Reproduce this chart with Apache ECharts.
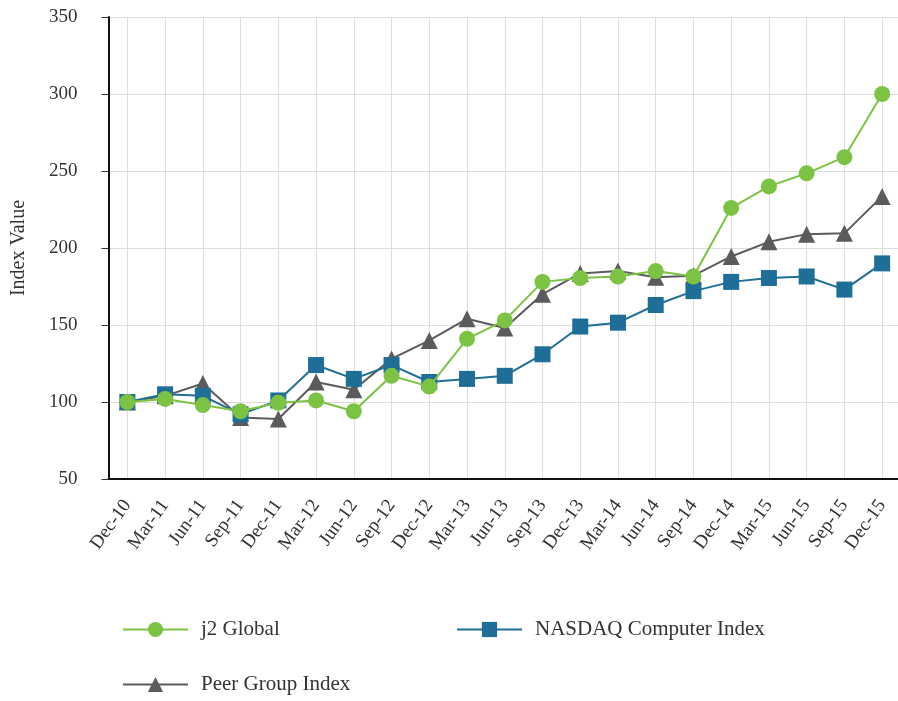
<!DOCTYPE html>
<html>
<head>
<meta charset="utf-8">
<script src="https://cdn.jsdelivr.net/npm/echarts@6/dist/echarts.min.js"></script>
<style>
  html, body { margin: 0; padding: 0; background: #fff; }
  #main { width: 898px; height: 701px; }
</style>
</head>
<body>
<div id="main"></div>
<script>
const quarters = ["Dec-10", "Mar-11", "Jun-11", "Sep-11", "Dec-11", "Mar-12", "Jun-12", "Sep-12", "Dec-12", "Mar-13", "Jun-13",
	"Sep-13", "Dec-13", "Mar-14", "Jun-14", "Sep-14", "Dec-14", "Mar-15", "Jun-15", "Sep-15", "Dec-15"];
const j2Global = [100, 102, 98, 94, 99.5, 101, 94, 117, 110, 141, 153, 178, 180.5, 181.5, 185, 181.5, 226, 240, 248.5, 259, 300];
const nasdaqComputer = [100, 105, 104, 92, 101, 124, 115, 124, 113, 115, 117, 131, 149, 151.5, 163, 172, 178, 180.5, 181.5, 173, 190];
const peerGroup = [100, 104, 112, 90, 89, 113, 108, 128, 140, 154, 148, 170, 183.5, 185, 181, 182, 194.5, 204, 209, 209.5, 233.5];

const font = "Liberation Serif";
const chart = echarts.init(document.getElementById("main"));

const legendBase = {
	itemWidth: 65,
	itemHeight: 19,
	textStyle: { fontFamily: font, fontSize: 21, color: "#333", padding: [0, 0, 0, 8] },
	selectedMode: false,
};

const option = {
	animation: false,
	grid: { left: 108.5, right: -3, top: 17, bottom: 222, outerBoundsMode: "none" },
	legend: [
		Object.assign({ left: 117, top: 614, data: ["j2 Global"] }, legendBase),
		Object.assign({ left: 451, top: 614, data: ["NASDAQ Computer Index"] }, legendBase),
		Object.assign({ left: 117, top: 669, data: ["Peer Group Index"] }, legendBase),
	],
	xAxis: {
		type: "category",
		data: quarters,
		boundaryGap: true,
		axisLine: { lineStyle: { color: "#111", width: 2 } },
		axisTick: { alignWithLabel: true, length: 7, lineStyle: { color: "#333" } },
		axisLabel: {
			rotate: 54,
			margin: 23,
			fontFamily: font,
			fontSize: 19,
			color: "#333",
			interval: 0,
		},
		splitLine: { show: true, alignWithLabel: true, lineStyle: { color: "#ddd", width: 1 } },
	},
	yAxis: {
		type: "value",
		min: 50,
		max: 350,
		interval: 50,
		name: "Index Value",
		nameLocation: "middle",
		nameGap: 80,
		nameTextStyle: { fontFamily: font, fontSize: 20, color: "#333" },
		axisLine: { show: true, lineStyle: { color: "#111", width: 2 } },
		axisTick: { show: true, length: 7, lineStyle: { color: "#333" } },
		axisLabel: { margin: 31, fontFamily: font, fontSize: 19, color: "#333" },
		splitLine: { lineStyle: { color: "#ddd", width: 1 } },
	},
	series: [
		{
			name: "Peer Group Index",
			type: "line",
			data: peerGroup,
			symbol: "triangle",
			symbolSize: 17,
			z: 2,
			itemStyle: { color: "#5a5b5d" },
			lineStyle: { color: "#5a5b5d", width: 2 },
		},
		{
			name: "NASDAQ Computer Index",
			type: "line",
			data: nasdaqComputer,
			symbol: "rect",
			symbolSize: 16,
			z: 3,
			itemStyle: { color: "#1f6e98" },
			lineStyle: { color: "#1f6e98", width: 2 },
		},
		{
			name: "j2 Global",
			type: "line",
			data: j2Global,
			symbol: "circle",
			symbolSize: 16,
			z: 4,
			itemStyle: { color: "#7cc243" },
			lineStyle: { color: "#7cc243", width: 2 },
		},
	],
};

chart.setOption(option);
</script>
</body>
</html>
